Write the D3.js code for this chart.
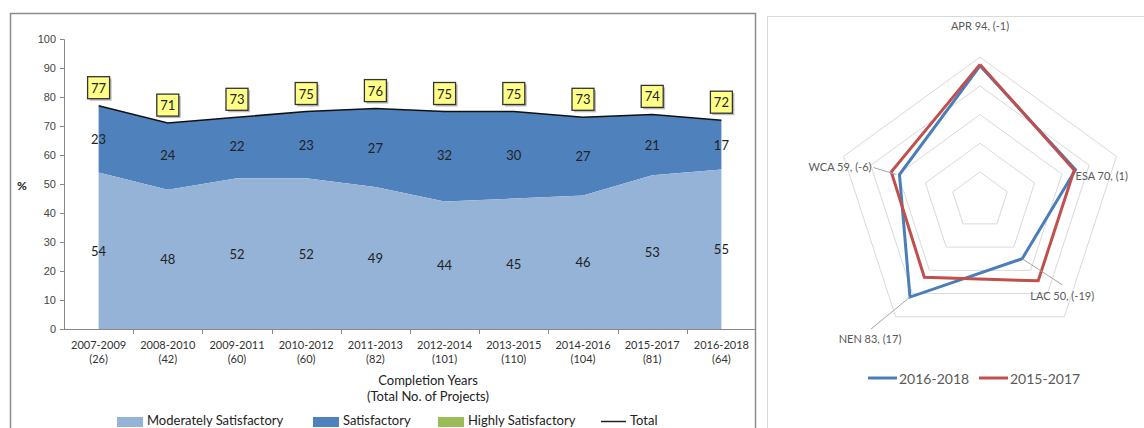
<!DOCTYPE html>
<html><head><meta charset="utf-8">
<script src="https://cdn.jsdelivr.net/npm/d3@7"></script>
<style>
body{margin:0;background:#fff;}
svg{display:block;font-family:Lato,"Open Sans",sans-serif;}
</style></head>
<body><svg id="c" width="1144" height="428"></svg>
<script>
// ---- data ----
const categories = ["2007-2009","2008-2010","2009-2011","2010-2012","2011-2013","2012-2014","2013-2015","2014-2016","2015-2017","2016-2018"];
const projectCounts = [26,42,60,60,82,101,110,104,81,64];
const moderately = [54,48,52,52,49,44,45,46,53,55];
const satisfactory = [23,24,22,23,27,32,30,27,21,17];
const totals = [77,71,73,75,76,75,75,73,74,72];
const yTicks = [0,10,20,30,40,50,60,70,80,90,100];
const legendItems = ["Moderately Satisfactory","Satisfactory","Highly Satisfactory","Total"];

const regions = ["APR","ESA","LAC","NEN","WCA"];
const ratings2016 = [94,70,50,83,59];
const ratings2015 = [95,69,69,66,65];
const changes = ["-1","1","-19","17","-6"];
const radarLevels = [20,40,60,80,100];
const radarSeries = ["2016-2018","2015-2017"];

const svg = d3.select("#c");
const C = {ms:"#95b3d7", s:"#4f81bd", hs:"#9bbb59", blue:"#4a7ebb", red:"#c0504d"};

// ---- left panel ----
svg.append("rect").attr("x",10.5).attr("y",13.5).attr("width",745).attr("height",430)
  .attr("fill","none").attr("stroke","#8c8c8c").attr("stroke-width",1.5);

const x = d3.scaleBand().domain(categories).range([64,756]);
const bw = x.bandwidth();
const cx = c => x(c) + bw/2;
const y = d3.scaleLinear().domain([0,100]).range([329,39]);

const rows = categories.map((c,i)=>({c, ms:moderately[i], s:satisfactory[i], t:totals[i], n:projectCounts[i]}));

svg.append("path").datum(rows)
  .attr("d", d3.area().x(d=>cx(d.c)).y0(d=>y(d.ms)).y1(d=>y(d.t)))
  .attr("fill", C.s);
svg.append("path").datum(rows)
  .attr("d", d3.area().x(d=>cx(d.c)).y0(y(0)).y1(d=>y(d.ms)))
  .attr("fill", C.ms);
svg.append("path").datum(rows)
  .attr("d", d3.line().x(d=>cx(d.c)).y(d=>y(d.t)))
  .attr("fill","none").attr("stroke","#111").attr("stroke-width",1.5);

// y axis
const ya = svg.append("g").attr("transform","translate(64,0)")
  .call(d3.axisLeft(y).tickValues(yTicks).tickSize(4).tickPadding(4));
ya.select(".domain").attr("stroke","#888");
ya.selectAll(".tick line").attr("stroke","#888");
ya.selectAll("text").attr("fill","#444").attr("font-size",11);
svg.append("text").attr("x",22).attr("y",190).attr("text-anchor","middle")
  .attr("font-size",12).attr("font-weight","bold").attr("fill","#222").text("%");

// x axis
svg.append("line").attr("x1",64).attr("x2",756).attr("y1",329.5).attr("y2",329.5).attr("stroke","#888");
svg.selectAll(".xt").data(categories.slice(0,-1)).join("line")
  .attr("x1",d=>Math.round(x(d)+bw)+0.5).attr("x2",d=>Math.round(x(d)+bw)+0.5)
  .attr("y1",329).attr("y2",334).attr("stroke","#888");
const xl = svg.selectAll(".xl").data(rows).join("text")
  .attr("text-anchor","middle").attr("font-size",11).attr("fill","#333");
xl.append("tspan").attr("x",d=>cx(d.c)).attr("y",349).text(d=>d.c);
xl.append("tspan").attr("x",d=>cx(d.c)).attr("y",363).text(d=>"("+d.n+")");
svg.append("text").attr("x",428).attr("y",385).attr("text-anchor","middle").attr("font-size",13).attr("fill","#222").text("Completion Years");
svg.append("text").attr("x",428).attr("y",401).attr("text-anchor","middle").attr("font-size",13).attr("fill","#222").text("(Total No. of Projects)");

// data labels
svg.selectAll(".msl").data(rows).join("text")
  .attr("x",d=>cx(d.c)).attr("y",d=>y(d.ms/2)+5).attr("text-anchor","middle")
  .attr("font-size",13).attr("fill","#222").text(d=>d.ms);
svg.selectAll(".sl").data(rows).join("text")
  .attr("x",d=>cx(d.c)).attr("y",d=>y(d.ms + d.s/2)+5).attr("text-anchor","middle")
  .attr("font-size",13).attr("fill","#222").text(d=>d.s);
const tb = svg.selectAll(".tb").data(rows).join("g")
  .attr("transform",d=>`translate(${cx(d.c)},${y(d.t)-18})`);
tb.append("rect").attr("x",-9).attr("y",-9).attr("width",22).attr("height",22).attr("fill","#bdbdbd");
tb.append("rect").attr("x",-11).attr("y",-11).attr("width",22).attr("height",22)
  .attr("fill","#ffff88").attr("stroke","#333").attr("stroke-width",1.3);
tb.append("text").attr("y",5).attr("text-anchor","middle").attr("font-size",13).attr("fill","#222").text(d=>d.t);

// legend
const lg = [{x:117,t:legendItems[0],c:C.ms},{x:313,t:legendItems[1],c:C.s},{x:438,t:legendItems[2],c:C.hs}];
lg.forEach(l=>{
  svg.append("rect").attr("x",l.x).attr("y",417).attr("width",26).attr("height",10).attr("fill",l.c);
  svg.append("text").attr("x",l.x+30).attr("y",425).attr("font-size",13).attr("fill","#222").text(l.t);
});
svg.append("line").attr("x1",601).attr("x2",626).attr("y1",421.5).attr("y2",421.5).attr("stroke","#222").attr("stroke-width",1.5);
svg.append("text").attr("x",630).attr("y",425).attr("font-size",13).attr("fill","#222").text(legendItems[3]);

// ---- right panel (radar) ----
svg.append("rect").attr("x",767.5).attr("y",16.5).attr("width",400).attr("height",430)
  .attr("fill","none").attr("stroke","#d9d9d9").attr("stroke-width",1);
const rc = {x:980, y:200.7};
const r = d3.scaleLinear().domain([0,100]).range([0,143.5]);
const ang = i => i*2*Math.PI/regions.length;
const pt = (i,v) => [rc.x + r(v)*Math.sin(ang(i)), rc.y - r(v)*Math.cos(ang(i))];

radarLevels.forEach(lv=>{
  svg.append("path").attr("d", d3.line()(regions.map((_,i)=>pt(i,lv)).concat([pt(0,lv)])))
    .attr("fill","none").attr("stroke","#d9d9d9").attr("stroke-width",1);
});
const radarLine = vals => d3.line()(vals.map((v,i)=>pt(i,v)).concat([pt(0,vals[0])]));
svg.append("path").attr("d", radarLine(ratings2016)).attr("fill","none").attr("stroke",C.blue).attr("stroke-width",3).attr("stroke-linejoin","miter");
svg.append("path").attr("d", radarLine(ratings2015)).attr("fill","none").attr("stroke",C.red).attr("stroke-width",3).attr("stroke-linejoin","miter");

// radar labels (layout offsets per label)
const labelLayout = [
  {dx:0, dy:-27, anchor:"middle", leader:false},
  {dx:0, dy:10, anchor:"start", leader:false},
  {dx:40, dy:41, anchor:"middle", leader:[0,0,40,26]},
  {dx:-40, dy:46, anchor:"middle", leader:[0,0,-39,32]},
  {dx:-28, dy:-4, anchor:"end", leader:[-3,-4,-26,-7]}
];
regions.forEach((g,i)=>{
  const p = pt(i, i===0?100:ratings2016[i]);
  const L = labelLayout[i];
  if(L.leader){
    svg.append("line").attr("x1",p[0]+L.leader[0]).attr("y1",p[1])
      .attr("x2",p[0]+L.leader[2]).attr("y2",p[1]+L.leader[3]).attr("stroke","#a6a6a6");
  }
  svg.append("text").attr("x",p[0]+L.dx).attr("y",p[1]+L.dy).attr("text-anchor",L.anchor)
    .attr("font-size",11).attr("fill","#595959").text(`${g} ${ratings2016[i]}, (${changes[i]})`);
});

// radar legend
const rl = [{x:868,t:radarSeries[0],c:C.blue},{x:979,t:radarSeries[1],c:C.red}];
rl.forEach(l=>{
  svg.append("line").attr("x1",l.x).attr("x2",l.x+29).attr("y1",378).attr("y2",378).attr("stroke",l.c).attr("stroke-width",3);
  svg.append("text").attr("x",l.x+31).attr("y",383.5).attr("font-size",14).attr("fill","#595959").text(l.t);
});
</script></body></html>
